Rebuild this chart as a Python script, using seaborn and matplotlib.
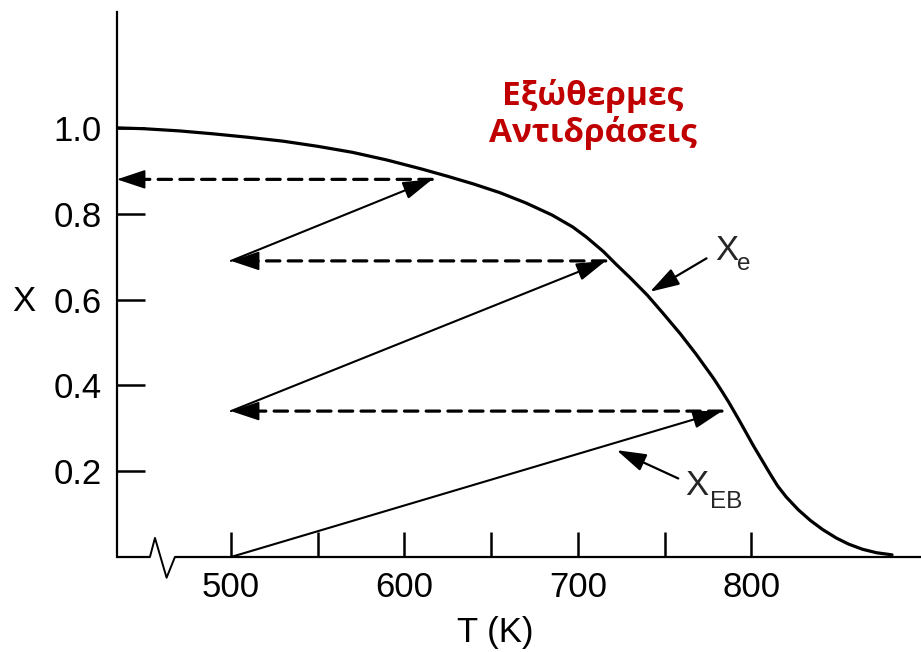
import matplotlib
matplotlib.use("Agg")
import matplotlib.pyplot as plt
import matplotlib.transforms as mtransforms
from matplotlib.patches import FancyArrowPatch
import pandas as pd
import seaborn as sns

# Equilibrium conversion curve X_e(T)
eq_T = [434.3, 450, 470, 490, 510, 530, 550, 570, 590, 610, 625, 640, 655,
        670, 685, 697, 705, 714.6, 722, 730, 740, 749, 759, 768, 778, 783,
        787, 793, 797, 801, 806, 811, 815, 820, 827, 834, 841, 849, 856, 864,
        872, 881]
eq_X = [1.000, 0.998, 0.993, 0.986, 0.978, 0.969, 0.957, 0.943, 0.925, 0.904,
        0.887, 0.869, 0.849, 0.825, 0.797, 0.769, 0.745, 0.712, 0.682, 0.651,
        0.610, 0.568, 0.520, 0.473, 0.417, 0.386, 0.360, 0.318, 0.289, 0.260,
        0.226, 0.192, 0.166, 0.140, 0.110, 0.085, 0.064, 0.044, 0.030, 0.018,
        0.010, 0.005]

# Adiabatic reactor stages (energy-balance lines X_EB) and interstage cooling
stage_T_in = [500, 500, 500]
stage_X_in = [0.00, 0.34, 0.69]
stage_T_out = [783, 716, 616]
stage_X_out = [0.34, 0.69, 0.88]
cool_T_to = [500, 500, 434.3]

x_ticks = [500, 550, 600, 650, 700, 750, 800]
x_tick_labels = ["500", "", "600", "", "700", "", "800"]
y_ticks = [0.2, 0.4, 0.6, 0.8, 1.0]
y_tick_labels = ["0.2", "0.4", "0.6", "0.8", "1.0"]

title_lines = ["Εξώθερμες", "Αντιδράσεις"]

sns.set_theme(style="white")
plt.rcParams["font.family"] = ["Liberation Sans", "DejaVu Sans"]

T_MIN, T_MAX = 434.3, 897.7
X_MIN, X_MAX = 0.0, 1.27

fig = plt.figure(figsize=(9.21, 6.52), dpi=100)
ax = fig.add_axes([0.1270, 0.1457, 0.8730, 0.8359])

curve = pd.DataFrame({"T": eq_T, "X": eq_X})
sns.lineplot(data=curve, x="T", y="X", ax=ax, color="black", lw=2.3,
             solid_joinstyle="round", solid_capstyle="round")

ax.set_xlim(T_MIN, T_MAX)
ax.set_ylim(X_MIN, X_MAX)

for side in ["top", "right", "bottom"]:
    ax.spines[side].set_visible(False)
ax.spines["left"].set_linewidth(1.6)
ax.spines["left"].set_color("black")

# Bottom axis line with a break mark near its left end
blend = mtransforms.blended_transform_factory(ax.transData, ax.transAxes)
ax.plot([T_MIN, 453.3], [0, 0], color="black", lw=1.6, transform=blend,
        clip_on=False, solid_capstyle="butt")
ax.plot([453.3, 456.2, 462.9, 467.7], [0, 0.035, -0.038, 0], color="black",
        lw=1.4, transform=blend, clip_on=False)
ax.plot([467.7, T_MAX], [0, 0], color="black", lw=1.6, transform=blend,
        clip_on=False, solid_capstyle="butt")

ax.set_xticks(x_ticks)
ax.set_xticklabels(x_tick_labels)
ax.set_yticks(y_ticks)
ax.set_yticklabels(y_tick_labels)
ax.tick_params(axis="x", direction="in", length=18, width=1.8, labelsize=25,
               pad=10, colors="black", bottom=True)
ax.tick_params(axis="y", direction="in", length=20, width=1.8, labelsize=25,
               pad=11, colors="black", left=True)
ax.grid(False)

ax.set_xlabel("T (K)", fontsize=25, color="black", va="center")
ax.xaxis.set_label_coords(0.471, -0.139)
ax.set_ylabel("X", fontsize=25, color="black", rotation=0, va="center",
              ha="center")
ax.yaxis.set_label_coords(-0.1157, 0.468)


def arrow(p0, p1, lw=1.5, ls="-", hl=18, hw=5.5, head=True):
    style = f"-|>,head_length={hl},head_width={hw}" if head else "-"
    patch = FancyArrowPatch(
        p0, p1, arrowstyle=style, mutation_scale=1, lw=lw, linestyle=ls,
        color="black", shrinkA=0, shrinkB=0, clip_on=False, zorder=4)
    ax.add_patch(patch)


for t0, x0, t1, x1, tc in zip(stage_T_in, stage_X_in, stage_T_out,
                              stage_X_out, cool_T_to):
    # heating along the energy-balance line
    arrow((t0, x0), (t1, x1), lw=1.5)
    # interstage cooling: dashed shaft with a solid head
    arrow((t1, x1), (tc + 12, x1), lw=2.3, ls=(0, (4.2, 2.6)), head=False)
    arrow((tc + 14, x1), (tc, x1), lw=1.2, hl=18, hw=6)

# Curve labels with pointer arrows
arrow((774.1, 0.696), (741.5, 0.618), lw=1.6)
ax.text(779, 0.692, "X", fontsize=25, va="baseline", ha="left")
ax.text(791.6, 0.669, "e", fontsize=17.5, va="baseline", ha="left")

arrow((757.8, 0.183), (722.3, 0.249), lw=1.6)
ax.text(761.7, 0.1445, "X", fontsize=25, va="baseline", ha="left")
ax.text(776.1, 0.114, "EB", fontsize=17.5, va="baseline", ha="left")

for line, base in zip(title_lines, [1.054, 0.967]):
    ax.text(708.6, base, line, fontsize=24, fontweight="bold", color="#C00000",
            family=["Open Sans", "DejaVu Sans"], ha="center", va="baseline")

fig.savefig("out.png", dpi=100, facecolor="white")
